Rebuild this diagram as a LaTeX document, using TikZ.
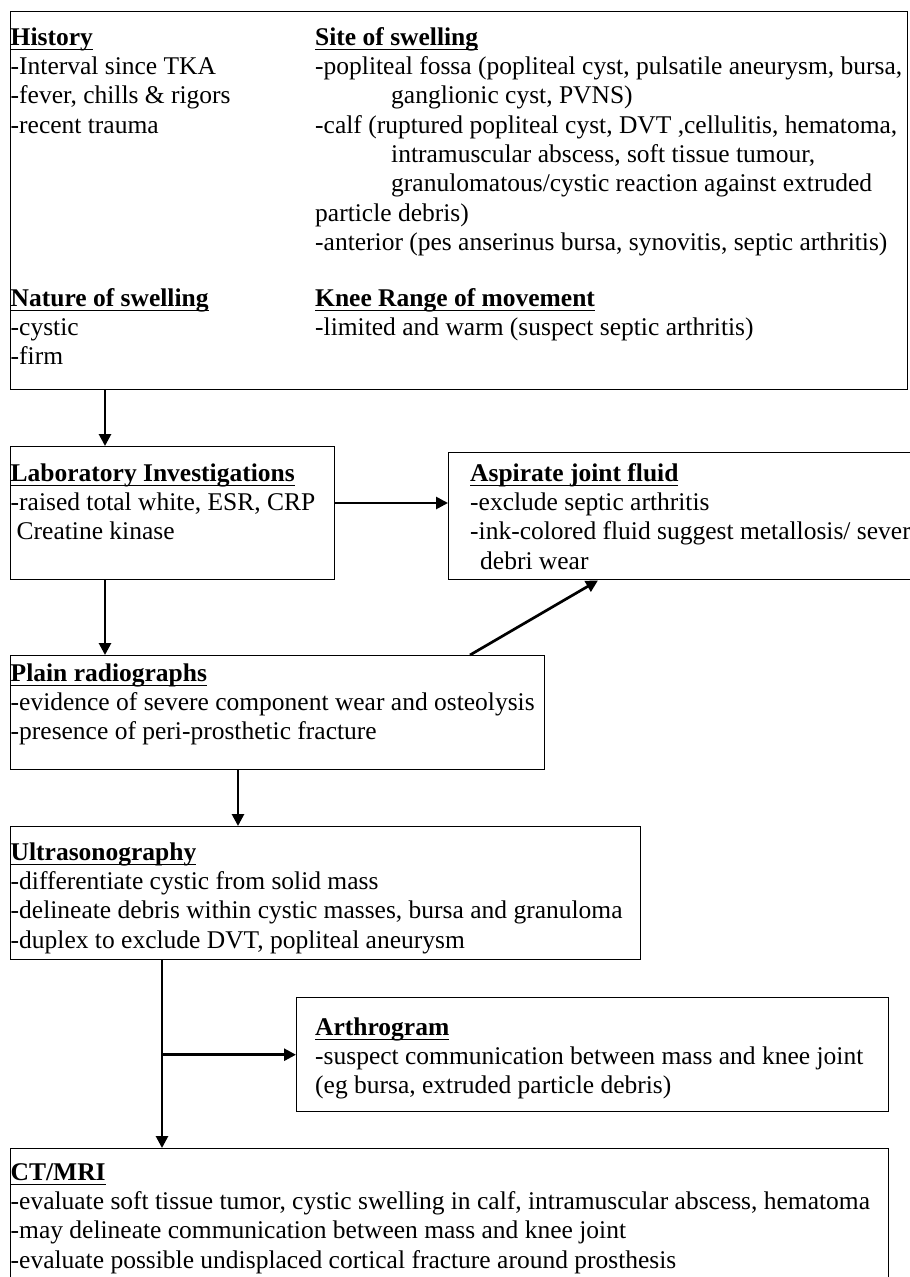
\documentclass[tikz,border=0pt]{standalone}
\usepackage{fontspec}
\setmainfont{Liberation Serif}
\usetikzlibrary{arrows.meta}
\newcommand{\hd}[1]{\setbox0\hbox{\bfseries #1}\rlap{\rule[-5.2pt]{\wd0}{1.8pt}}\box0}
\tikzset{
  box/.style={draw,line width=1.4pt,inner sep=0pt,anchor=north west},
  txt/.style={align=left,inner sep=0pt,anchor=north west,font=\fontsize{25.5}{29.3}\selectfont}
}
\begin{document}
\begin{tikzpicture}[>={Triangle[length=12pt,width=12pt]},x=1pt,y=-1pt]
\clip (0,0) rectangle (910,1277);
\node[box,minimum width=897pt,minimum height=378pt](hist) at (10,11){};
\node[box,minimum width=324pt,minimum height=133pt](lab) at (10,446){};
\node[box,minimum width=520pt,minimum height=127pt](asp) at (448,452){};
\node[box,minimum width=534pt,minimum height=114pt](plain) at (10,655){};
\node[box,minimum width=630pt,minimum height=133pt](us) at (10,826){};
\node[box,minimum width=592pt,minimum height=114pt](arth) at (296,997){};
\node[box,minimum width=878pt,minimum height=160pt](ct) at (10,1148){};
\node[txt](histtxt) at (10.5,24.5){\strut\hd{History}\\-Interval since TKA\\-fever, chills \& rigors\\-recent trauma};
\node[txt](sitetxt) at (315,24.5){\strut\hd{Site of swelling}\\
-popliteal fossa (popliteal cyst, pulsatile aneurysm, bursa,\\
\hspace*{76pt}ganglionic cyst, PVNS)\\
-calf (ruptured popliteal cyst, DVT ,cellulitis, hematoma,\\
\hspace*{76pt}intramuscular abscess, soft tissue tumour,\\
\hspace*{76pt}granulomatous/cystic reaction against extruded\\
particle debris)\\
-anterior (pes anserinus bursa, synovitis, septic arthritis)};
\node[txt](nattxt) at (10.5,285.5){\strut\hd{Nature of swelling}\\-cystic\\-firm};
\node[txt](kneetxt) at (315,285.5){\strut\hd{Knee Range of movement}\\-limited and warm (suspect septic arthritis)};
\node[txt](labtxt) at (10.5,460.5){\strut\hd{Laboratory Investigations}\\-raised total white, ESR, CRP\\\hspace*{6pt}Creatine kinase};
\node[txt](asptxt) at (470,460.5){\strut\hd{Aspirate joint fluid}\\-exclude septic arthritis\\-ink-colored fluid suggest metallosis/ severe\\\hspace*{10pt}debri wear};
\node[txt](plaintxt) at (10.5,660.5){\strut\hd{Plain radiographs}\\-evidence of severe component wear and osteolysis\\-presence of peri-prosthetic fracture};
\node[txt](ustxt) at (10.5,839.5){\strut\hd{Ultrasonography}\\-differentiate cystic from solid mass\\-delineate debris within cystic masses, bursa and granuloma\\-duplex to exclude DVT, popliteal aneurysm};
\node[txt](arthtxt) at (315,1014.5){\strut\hd{Arthrogram}\\-suspect communication between mass and knee joint\\(eg bursa, extruded particle debris)};
\node[txt](cttxt) at (10.5,1159.5){\strut\hd{CT/MRI}\\-evaluate soft tissue tumor, cystic swelling in calf, intramuscular abscess, hematoma\\-may delineate communication between mass and knee joint\\-evaluate possible undisplaced cortical fracture around prosthesis};
\coordinate(dropA) at (105,0);
\coordinate(sideA) at (0,503);
\coordinate(riseA) at (470,0);
\coordinate(riseB) at (598,0);
\coordinate(dropB) at (238,0);
\coordinate(dropC) at (162,0);
\draw[->,line width=2.7pt](hist.south -| dropA)--(lab.north -| dropA);
\draw[->,line width=2.7pt](lab.east |- sideA)--(asp.west |- sideA);
\draw[->,line width=2.7pt](lab.south -| dropA)--(plain.north -| dropA);
\draw[->,line width=2.7pt](plain.north -| riseA)--(asp.south -| riseB);
\draw[->,line width=2.7pt](plain.south -| dropB)--(us.north -| dropB);
\draw[->,line width=2.7pt](us.south -| dropC)--(ct.north -| dropC);
\draw[->,line width=2.7pt](arth.west -| dropC)--(arth.west);
\end{tikzpicture}
\end{document}
